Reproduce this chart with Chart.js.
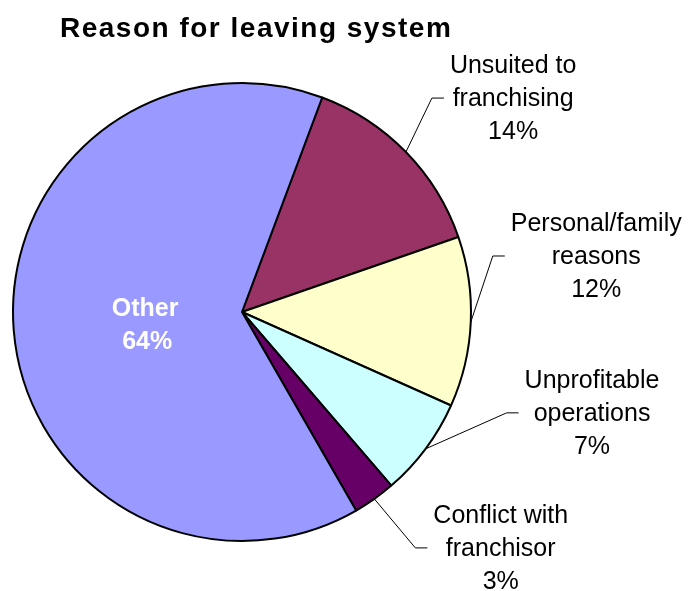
<!DOCTYPE html>
<html>
<head>
<meta charset="utf-8">
<title>Reason for leaving system</title>
<script src="https://cdn.jsdelivr.net/npm/chart.js@4"></script>
<style>
  html, body { margin: 0; padding: 0; background: #fff; }
  #wrap { width: 691px; height: 591px; }
</style>
</head>
<body>
<div id="wrap"><canvas id="pie" width="691" height="591"></canvas></div>
<script>
// slices, in drawing order (clockwise from the top-right)
const categories = ["Unsuited to franchising", "Personal/family reasons", "Unprofitable operations", "Conflict with franchisor", "Other"];
const labelLines = [["Unsuited to", "franchising"], ["Personal/family", "reasons"], ["Unprofitable", "operations"], ["Conflict with", "franchisor"], ["Other"]];
const shares = [14, 12, 7, 3, 64];
const sliceColors = ["#993366", "#FFFFCC", "#CCFFFF", "#660066", "#9999FF"];

// where each outside label's leader line bends, relative to the slice edge
const leaderBends = [[26, -54], [22, -66], [81, -36], [41, 49], null];

const FONT = "'Liberation Sans', Arial, sans-serif";

const labelPlugin = {
  id: "pieLabels",
  afterDatasetsDraw(chart) {
    const ctx = chart.ctx;
    const arcs = chart.getDatasetMeta(0).data;
    ctx.save();
    arcs.forEach((arc, i) => {
      const mid = (arc.startAngle + arc.endAngle) / 2;
      const lines = labelLines[i].concat([shares[i] + "%"]);
      const bend = leaderBends[i];
      if (!bend) {
        // inside label
        const r = arc.outerRadius * 0.42;
        const cx = arc.x + Math.cos(mid) * r;
        const cy = arc.y + Math.sin(mid) * r;
        ctx.font = "bold 25px " + FONT;
        ctx.fillStyle = "#fff";
        ctx.textAlign = "center";
        ctx.textBaseline = "alphabetic";
        ctx.fillText(lines[0], cx - 1, cy - 4);
        ctx.fillText(lines[1], cx + 1, cy + 29);
        return;
      }
      const ex = arc.x + Math.cos(mid) * arc.outerRadius;
      const ey = arc.y + Math.sin(mid) * arc.outerRadius;
      const bx = ex + bend[0], by = ey + bend[1];
      const tx = bx + 12;
      ctx.strokeStyle = "#000";
      ctx.lineWidth = 1;
      ctx.beginPath();
      ctx.moveTo(ex, ey);
      ctx.lineTo(bx, by);
      ctx.lineTo(tx, by);
      ctx.stroke();

      ctx.font = "25px " + FONT;
      ctx.fillStyle = "#000";
      ctx.textAlign = "center";
      ctx.textBaseline = "alphabetic";
      const w = Math.max(...lines.map(s => ctx.measureText(s).width));
      const cx = tx + 6 + w / 2;
      lines.forEach((s, k) => {
        ctx.fillText(s, cx, by + 8 + (k - 1) * 33);
      });
    });

    // chart title
    ctx.font = "bold 28px " + FONT;
    ctx.fillStyle = "#000";
    ctx.textAlign = "left";
    ctx.letterSpacing = "1.5px";
    ctx.fillText("Reason for leaving system", 60, 37);
    ctx.restore();
  }
};

new Chart(document.getElementById("pie"), {
  type: "pie",
  data: {
    labels: categories,
    datasets: [{
      data: shares,
      backgroundColor: sliceColors,
      borderColor: "#000",
      borderWidth: 2
    }]
  },
  options: {
    responsive: false,
    animation: false,
    devicePixelRatio: 1,
    rotation: 20.5,
    layout: { padding: { left: 12, top: 82, right: 219, bottom: 49 } },
    plugins: {
      legend: { display: false },
      tooltip: { enabled: false },
      title: { display: false }
    }
  },
  plugins: [labelPlugin]
});
</script>
</body>
</html>
